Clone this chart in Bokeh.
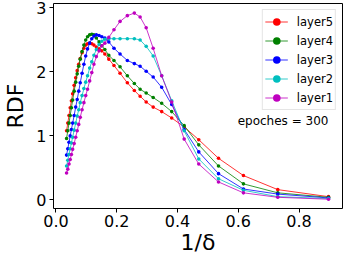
from bokeh.plotting import figure
from bokeh.models import Range1d, FixedTicker, CustomJSTickFormatter
from bokeh.core.properties import value
from bokeh.embed import file_html
from bokeh.resources import INLINE

x_vals = [0.035, 0.039, 0.043, 0.047, 0.051, 0.055, 0.060, 0.065, 0.070, 0.075,
          0.080, 0.086, 0.092, 0.098, 0.104, 0.111, 0.118, 0.125, 0.133, 0.142,
          0.151, 0.161, 0.174, 0.191, 0.211, 0.235, 0.258, 0.277, 0.297, 0.320,
          0.348, 0.381, 0.422, 0.470, 0.535, 0.617, 0.730, 0.897]

layer5 = [1.08, 1.20, 1.32, 1.44, 1.55, 1.66, 1.79, 1.91, 2.02, 2.12,
          2.21, 2.30, 2.37, 2.42, 2.44, 2.45, 2.44, 2.42, 2.39, 2.36,
          2.33, 2.28, 2.20, 2.10, 1.98, 1.83, 1.71, 1.62, 1.53, 1.45,
          1.38, 1.28, 1.14, 0.94, 0.65, 0.38, 0.16, 0.05]

layer4 = [0.96, 1.08, 1.20, 1.32, 1.44, 1.56, 1.70, 1.84, 1.97, 2.09,
          2.20, 2.32, 2.42, 2.50, 2.55, 2.58, 2.59, 2.58, 2.53, 2.47,
          2.41, 2.35, 2.26, 2.18, 2.08, 1.94, 1.82, 1.73, 1.67, 1.60,
          1.51, 1.38, 1.16, 0.86, 0.53, 0.25, 0.11, 0.04]

layer3 = [0.70, 0.80, 0.90, 1.00, 1.10, 1.20, 1.32, 1.45, 1.57, 1.70,
          1.83, 1.98, 2.12, 2.25, 2.36, 2.45, 2.52, 2.56, 2.58, 2.57,
          2.55, 2.53, 2.47, 2.37, 2.28, 2.18, 2.13, 2.09, 2.01, 1.92,
          1.76, 1.49, 1.10, 0.75, 0.41, 0.17, 0.09, 0.03]

layer2 = [0.53, 0.62, 0.71, 0.80, 0.89, 0.98, 1.09, 1.20, 1.31, 1.41,
          1.52, 1.63, 1.74, 1.84, 1.94, 2.06, 2.16, 2.26, 2.35, 2.43,
          2.48, 2.51, 2.52, 2.52, 2.52, 2.52, 2.52, 2.50, 2.40, 2.25,
          1.94, 1.55, 1.08, 0.64, 0.33, 0.15, 0.05, 0.02]

layer1 = [0.42, 0.48, 0.56, 0.63, 0.71, 0.79, 0.88, 0.98, 1.08, 1.18,
          1.29, 1.41, 1.52, 1.63, 1.73, 1.86, 1.99, 2.12, 2.24, 2.33,
          2.41, 2.45, 2.54, 2.66, 2.79, 2.88, 2.92, 2.86, 2.69, 2.37,
          1.94, 1.53, 0.95, 0.56, 0.28, 0.11, 0.04, 0.01]

series_names = ["layer5", "layer4", "layer3", "layer2", "layer1"]
series_values = [layer5, layer4, layer3, layer2, layer1]
series_colors = ["#ff0000", "#008000", "#0000ff", "#00bfbf", "#bf00bf"]

x_ticks = [0.0, 0.2, 0.4, 0.6, 0.8]
y_ticks = [0, 1, 2, 3]
note_text = "epoches = 300"
note_pos = (0.598, 1.23)

FONT = "DejaVu Sans"

p = figure(width=343, height=257, output_backend="svg", toolbar_location=None,
           x_range=Range1d(-0.008, 0.943), y_range=Range1d(-0.135, 3.07),
           min_border_left=42, min_border_right=1, min_border_top=3,
           min_border_bottom=5)

p.background_fill_color = "white"
p.border_fill_color = "white"
p.outline_line_color = "black"
p.outline_line_width = 1
p.grid.visible = False

for name, vals, col in zip(series_names, series_values, series_colors):
    p.line(x_vals, vals, line_color=col, line_width=0.8, legend_label=name)
    p.scatter(x_vals, vals, size=3.6, fill_color=col, line_color=None,
              legend_label=name)

p.text(x=[note_pos[0]], y=[note_pos[1]], text=[note_text],
       text_font=value(FONT), text_font_size="12px", text_color="black",
       text_baseline="middle", text_align="left")

for ax in (p.xaxis[0], p.yaxis[0]):
    ax.axis_line_color = None
    ax.major_tick_line_color = "black"
    ax.major_tick_out = 4
    ax.major_tick_in = 0
    ax.minor_tick_line_color = None
    ax.major_label_text_font = FONT
    ax.major_label_text_font_size = "16px"
    ax.major_label_text_color = "black"
    ax.axis_label_text_font = FONT
    ax.axis_label_text_font_size = "22px"
    ax.axis_label_text_font_style = "normal"
    ax.axis_label_text_color = "black"

p.xaxis.ticker = FixedTicker(ticks=x_ticks)
p.yaxis.ticker = FixedTicker(ticks=y_ticks)
p.xaxis.formatter = CustomJSTickFormatter(code="return tick.toFixed(1);")
p.yaxis.formatter = CustomJSTickFormatter(code="return tick.toFixed(0);")
p.xaxis.axis_label = "1/δ"
p.yaxis.axis_label = "RDF"
p.xaxis.major_label_standoff = 2
p.yaxis.major_label_standoff = 3
p.xaxis.axis_label_standoff = 0
p.yaxis.axis_label_standoff = 5

lg = p.legend[0]
lg.location = "top_right"
lg.margin = 6
lg.padding = 2
lg.spacing = 0
lg.glyph_width = 23
lg.glyph_height = 19
lg.label_height = 19
lg.label_standoff = 9
lg.label_text_font = FONT
lg.label_text_font_size = "11.5px"
lg.label_text_color = "black"
lg.border_line_color = "#cccccc"
lg.border_line_width = 1
lg.background_fill_color = "white"
lg.background_fill_alpha = 0.8

open("out.html", "w").write(file_html(p, INLINE))
